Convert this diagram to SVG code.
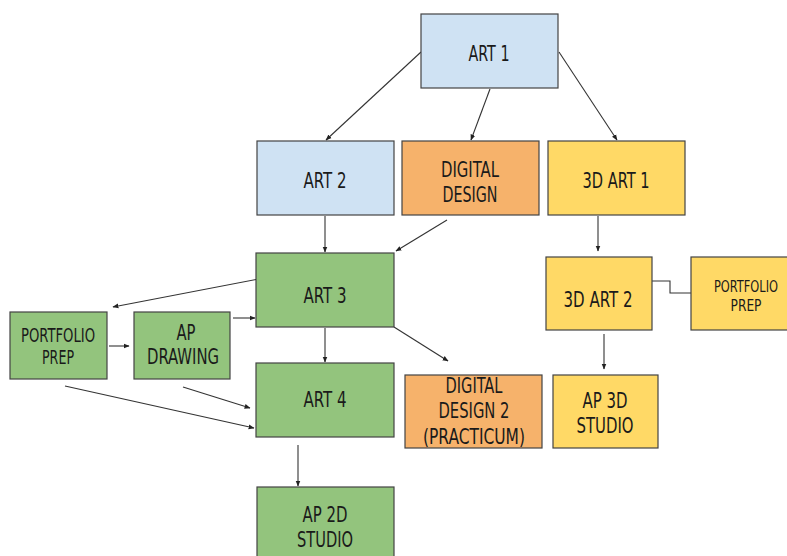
<svg xmlns="http://www.w3.org/2000/svg" width="787" height="556" viewBox="0 0 787 556">
<defs>
<marker id="ah" viewBox="0 0 10 10" refX="9" refY="5" markerWidth="6" markerHeight="6" markerUnits="userSpaceOnUse" orient="auto">
<path d="M0,1 L10,5 L0,9 Z" fill="#222"/>
</marker>
</defs>
<style>
.n rect{stroke:#434343;stroke-width:1.2}
.b{fill:#cfe2f3}.o{fill:#f6b26b}.y{fill:#ffd966}.g{fill:#93c47d}
text{font-family:"DejaVu Sans Condensed","DejaVu Sans","Liberation Sans",sans-serif;font-stretch:condensed;fill:#1a1a1a;text-anchor:middle;font-size:22px}
.s{font-size:19px}.xs{font-size:16px}
#connectors line,#connectors polyline{stroke:#333;stroke-width:1.1;fill:none}
</style>
<rect width="787" height="556" fill="#ffffff"/>
<g id="connectors">
<line x1="421" y1="52" x2="326" y2="140" marker-end="url(#ah)"/>
<line x1="490" y1="89" x2="471" y2="140" marker-end="url(#ah)"/>
<line x1="559" y1="52" x2="617" y2="140" marker-end="url(#ah)"/>
<line x1="325" y1="216" x2="325" y2="252" marker-end="url(#ah)"/>
<line x1="447" y1="220" x2="396" y2="251" marker-end="url(#ah)"/>
<line x1="598" y1="216" x2="598" y2="251" marker-end="url(#ah)"/>
<line x1="264" y1="278" x2="113" y2="307" marker-end="url(#ah)"/>
<line x1="109" y1="346" x2="129" y2="346" marker-end="url(#ah)"/>
<line x1="233" y1="318" x2="255" y2="318" marker-end="url(#ah)"/>
<line x1="325" y1="328" x2="325" y2="362" marker-end="url(#ah)"/>
<line x1="183" y1="387" x2="250" y2="408" marker-end="url(#ah)"/>
<line x1="65" y1="386" x2="254" y2="428" marker-end="url(#ah)"/>
<line x1="394" y1="327" x2="448" y2="361" marker-end="url(#ah)"/>
<line x1="604" y1="334" x2="604" y2="369" marker-end="url(#ah)"/>
<line x1="298" y1="445" x2="298" y2="486" marker-end="url(#ah)"/>
<polyline points="652,281 670,281 670,293 691,293"/>
</g>
<g id="art1" class="n"><rect class="b" x="421" y="14" width="137" height="74"/><text x="489" y="61" textLength="41" lengthAdjust="spacingAndGlyphs">ART 1</text></g>
<g id="art2" class="n"><rect class="b" x="257" y="141" width="137" height="74"/><text x="325" y="188" textLength="43" lengthAdjust="spacingAndGlyphs">ART 2</text></g>
<g id="digitaldesign" class="n"><rect class="o" x="402" y="141" width="137" height="74"/><text x="470" y="177" textLength="58" lengthAdjust="spacingAndGlyphs">DIGITAL</text><text x="470" y="202" textLength="55" lengthAdjust="spacingAndGlyphs">DESIGN</text></g>
<g id="3dart1" class="n"><rect class="y" x="548" y="141" width="137" height="74"/><text x="616" y="188" textLength="67" lengthAdjust="spacingAndGlyphs">3D ART 1</text></g>
<g id="art3" class="n"><rect class="g" x="256" y="253" width="138" height="74"/><text x="325" y="303" textLength="43" lengthAdjust="spacingAndGlyphs">ART 3</text></g>
<g id="portfolioprep1" class="n"><rect class="g" x="10" y="312" width="97" height="67"/><text class="s" x="58" y="342" textLength="74" lengthAdjust="spacingAndGlyphs">PORTFOLIO</text><text class="s" x="58" y="364" textLength="32" lengthAdjust="spacingAndGlyphs">PREP</text></g>
<g id="apdrawing" class="n"><rect class="g" x="134" y="312" width="96" height="67"/><text x="186" y="340" textLength="19" lengthAdjust="spacingAndGlyphs">AP</text><text x="183" y="364" textLength="72" lengthAdjust="spacingAndGlyphs">DRAWING</text></g>
<g id="art4" class="n"><rect class="g" x="256" y="363" width="138" height="74"/><text x="325" y="407" textLength="43" lengthAdjust="spacingAndGlyphs">ART 4</text></g>
<g id="digitaldesign2" class="n"><rect class="o" x="405" y="375" width="137" height="73"/><text x="474" y="393" textLength="57" lengthAdjust="spacingAndGlyphs">DIGITAL</text><text x="474" y="418" textLength="71" lengthAdjust="spacingAndGlyphs">DESIGN 2</text><text x="474" y="444" textLength="102" lengthAdjust="spacingAndGlyphs">(PRACTICUM)</text></g>
<g id="3dart2" class="n"><rect class="y" x="546" y="257" width="106" height="73"/><text x="598" y="307" textLength="69" lengthAdjust="spacingAndGlyphs">3D ART 2</text></g>
<g id="portfolioprep2" class="n"><rect class="y" x="691" y="257" width="100" height="73"/><text class="xs" x="746" y="292" textLength="64" lengthAdjust="spacingAndGlyphs">PORTFOLIO</text><text class="xs" x="746" y="311" textLength="31" lengthAdjust="spacingAndGlyphs">PREP</text></g>
<g id="ap3dstudio" class="n"><rect class="y" x="553" y="375" width="105" height="73"/><text x="605" y="408" textLength="45" lengthAdjust="spacingAndGlyphs">AP 3D</text><text x="605" y="433" textLength="57" lengthAdjust="spacingAndGlyphs">STUDIO</text></g>
<g id="ap2dstudio" class="n"><rect class="g" x="257" y="487" width="137" height="75"/><text x="325" y="522" textLength="45" lengthAdjust="spacingAndGlyphs">AP 2D</text><text x="325" y="547" textLength="56" lengthAdjust="spacingAndGlyphs">STUDIO</text></g>
</svg>
